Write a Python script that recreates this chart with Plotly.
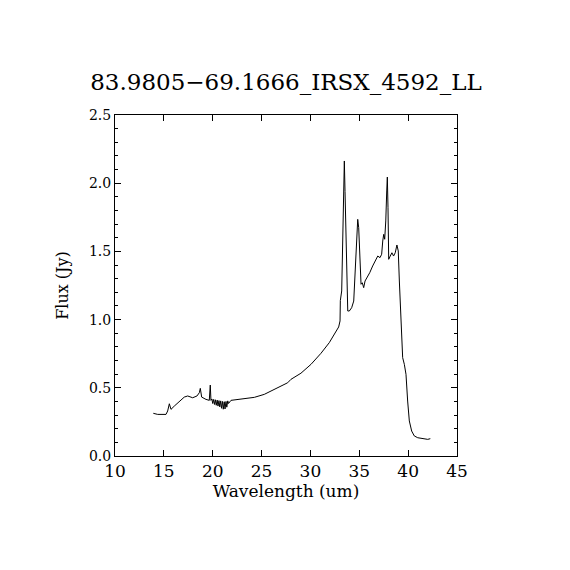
import plotly.graph_objects as go

# spectrum (wavelength in um, flux in Jy)
wave = [13.92, 14.37, 15.22, 15.39, 15.56, 15.73, 16.07, 16.58, 17.09, 17.44,
        17.95, 18.39, 18.63, 18.73, 18.87, 19.31, 19.65, 19.75, 19.82,
        19.92, 20.00, 20.10, 20.18, 20.28, 20.36, 20.46, 20.54, 20.64, 20.72,
        20.82, 20.90, 21.00, 21.08, 21.18, 21.26, 21.36, 21.44, 21.54, 21.62,
        21.87, 22.90, 24.26, 25.28, 25.63, 26.30, 27.67, 28.01, 29.03, 30.06,
        31.08, 31.93, 32.44, 32.89, 33.03, 33.06, 33.20, 33.30, 33.40, 33.47,
        33.54, 33.64, 33.82, 33.98, 34.22, 34.43, 34.56, 34.70, 34.84, 34.94,
        35.07, 35.18, 35.31, 35.45, 35.59, 35.79, 36.07, 36.37, 36.64, 36.89,
        37.12, 37.29, 37.40, 37.50, 37.60, 37.71, 37.81, 37.87, 37.94, 38.01,
        38.17, 38.34, 38.51, 38.68, 38.85, 38.99, 39.10, 39.27, 39.44, 39.61,
        39.78, 39.95, 40.12, 40.36, 40.63, 40.98, 41.49, 42.00, 42.27]
flux = [0.313, 0.305, 0.305, 0.330, 0.383, 0.342, 0.366, 0.398, 0.432, 0.440,
        0.427, 0.440, 0.464, 0.496, 0.432, 0.415, 0.408, 0.520, 0.408,
        0.418, 0.385, 0.415, 0.378, 0.412, 0.372, 0.410, 0.366, 0.406, 0.360,
        0.404, 0.350, 0.400, 0.343, 0.398, 0.345, 0.400, 0.358, 0.404, 0.385,
        0.408, 0.418, 0.430, 0.452, 0.464, 0.489, 0.537, 0.562, 0.607, 0.672,
        0.753, 0.831, 0.892, 0.946, 0.990, 1.140, 1.210, 1.580, 1.967, 2.163,
        1.940, 1.580, 1.063, 1.063, 1.087, 1.136, 1.332, 1.576, 1.735, 1.674,
        1.430, 1.259, 1.270, 1.234, 1.283, 1.307, 1.344, 1.393, 1.430, 1.466,
        1.454, 1.479, 1.576, 1.625, 1.589, 1.723, 1.943, 2.045, 1.820, 1.442,
        1.466, 1.490, 1.466, 1.490, 1.547, 1.503, 1.283, 0.965, 0.721, 0.672,
        0.599, 0.403, 0.257, 0.183, 0.147, 0.134, 0.127, 0.122, 0.127]

x_ticks = [10, 15, 20, 25, 30, 35, 40, 45]
y_ticks = [0.0, 0.5, 1.0, 1.5, 2.0, 2.5]

font = "DejaVu Serif"

fig = go.Figure()
fig.add_trace(go.Scatter(x=wave, y=flux, mode="lines",
                         line=dict(color="black", width=1)))

# page body adds ~7px offset, so margins are shifted to keep the box at 114..456
fig.update_layout(
    width=570, height=570,
    margin=dict(l=107, r=121, t=107, b=122),
    paper_bgcolor="white", plot_bgcolor="white",
    showlegend=False,
    title=dict(text="83.9805−69.1666_IRSX_4592_LL", x=(285 - 7) / 570,
               xanchor="center", y=1 - 74 / 570, yanchor="middle",
               font=dict(family=font, size=23, color="black")),
)
fig.update_xaxes(
    range=[10, 45], tickvals=x_ticks, ticktext=[str(v) for v in x_ticks],
    ticks="inside", ticklen=6, tickwidth=1, tickcolor="black",
    showline=True, linecolor="black", linewidth=1, mirror="ticks",
    showgrid=False, zeroline=False,
    tickfont=dict(family=font, size=17, color="black"),
    title=dict(text="Wavelength (um)", standoff=2,
               font=dict(family=font, size=17, color="black")),
)
fig.update_yaxes(
    range=[0, 2.5], tickvals=y_ticks, ticktext=["%.1f" % v for v in y_ticks],
    ticks="inside", ticklen=6, tickwidth=1, tickcolor="black",
    minor=dict(dtick=0.1, ticks="inside", ticklen=3, tickcolor="black"),
    showline=True, linecolor="black", linewidth=1, mirror="ticks",
    showgrid=False, zeroline=False,
    tickfont=dict(family=font, size=14, color="black"),
    title=dict(text="Flux (Jy)", standoff=16,
               font=dict(family=font, size=16, color="black")),
)

fig.write_html("out.html")
